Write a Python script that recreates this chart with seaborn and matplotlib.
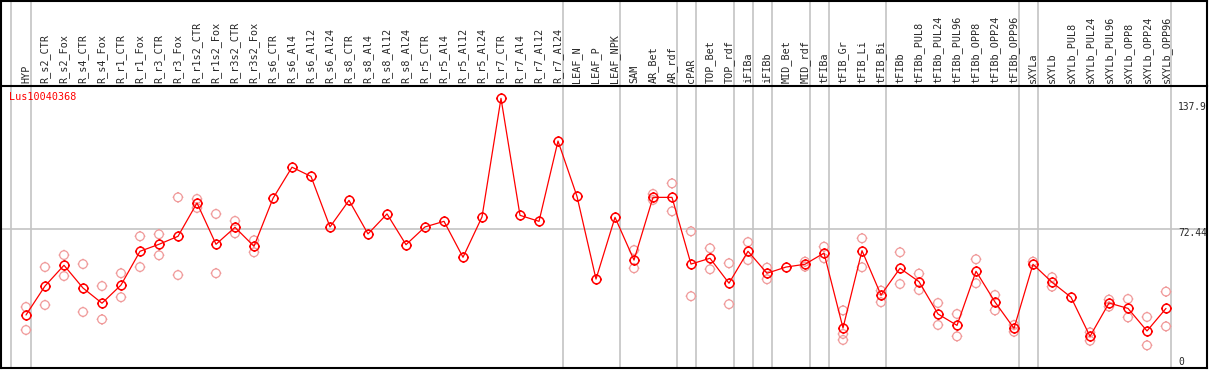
import numpy as np
import pandas as pd
import matplotlib
matplotlib.use("Agg")
import matplotlib.pyplot as plt
from matplotlib.path import Path
import seaborn as sns

# --------------------------------------------------------------------------- #
gene_id = "Lus10040368"

samples = [
    "HYP", "R_s2_CTR", "R_s2_Fox", "R_s4_CTR", "R_s4_Fox", "R_r1_CTR", "R_r1_Fox",
    "R_r3_CTR", "R_r3_Fox", "R_r1s2_CTR", "R_r1s2_Fox", "R_r3s2_CTR", "R_r3s2_Fox",
    "R_s6_CTR", "R_s6_Al4", "R_s6_Al12", "R_s6_Al24", "R_s8_CTR", "R_s8_Al4",
    "R_s8_Al12", "R_s8_Al24", "R_r5_CTR", "R_r5_Al4", "R_r5_Al12", "R_r5_Al24",
    "R_r7_CTR", "R_r7_Al4", "R_r7_Al12", "R_r7_Al24", "LEAF_N", "LEAF_P", "LEAF_NPK",
    "SAM", "AR_Bet", "AR_rdf", "cPAR", "TOP_Bet", "TOP_rdf", "iFIBa", "iFIBb",
    "MID_Bet", "MID_rdf", "tFIBa", "tFIB_Gr", "tFIB_Li", "tFIB_Bi", "tFIBb",
    "tFIBb_PUL8", "tFIBb_PUL24", "tFIBb_PUL96", "tFIBb_OPP8", "tFIBb_OPP24",
    "tFIBb_OPP96", "sXYLa", "sXYLb", "sXYLb_PUL8", "sXYLb_PUL24", "sXYLb_PUL96",
    "sXYLb_OPP8", "sXYLb_OPP24", "sXYLb_OPP96",
]

# mean expression per sample
means = [
    29.4, 43.9, 54.3, 42.9, 35.3, 44.4, 61.3, 64.8, 68.8, 85.5, 64.8, 73.3, 63.8,
    87.8, 103.4, 98.8, 73.5, 86.8, 70.0, 80.0, 64.6, 73.5, 76.3, 58.3, 78.5,
    137.9, 79.3, 76.3, 116.5, 88.8, 47.4, 78.3,
    56.9, 88.3, 88.3, 54.9, 57.8, 45.3, 61.3, 50.3, 53.4, 54.8, 60.4, 22.9, 61.6,
    39.4, 52.8, 46.1, 29.9, 24.2, 51.3, 35.9, 22.7, 54.8, 45.8, 38.3, 18.7, 35.4,
    32.7, 21.4, 32.7,
]

# individual replicates (nan = hidden behind the mean marker)
nan = np.nan
rep_hi = [
    33.4, 53.4, 59.4, 54.9, 43.9, 50.3, 68.8, 69.8, 88.3, 87.5, 80.0, 76.5, 66.8,
    nan, nan, nan, nan, nan, nan, nan, nan, nan, nan, nan, nan,
    nan, nan, nan, nan, nan, nan, nan,
    61.9, 90.0, 95.3, 71.3, 62.8, 55.3, 65.9, 53.1, nan, 56.1, 63.6, 31.7, 67.8,
    41.6, 60.8, 50.1, 35.4, 29.9, 57.3, 39.4, 24.4, 56.1, 48.3, nan, 20.7, 37.1,
    37.4, 28.4, 41.1,
]
rep_lo = [
    21.9, 34.4, 48.9, 30.9, 27.2, 38.3, 53.4, 59.3, 49.4, 83.0, 50.3, 70.3, 60.8,
    nan, nan, nan, nan, nan, nan, nan, nan, nan, nan, nan, nan,
    nan, nan, nan, nan, nan, nan, nan,
    52.8, 87.0, 81.3, 38.8, 52.3, 34.8, 56.9, 47.3, nan, 53.6, 57.8, 19.9, 53.3,
    35.8, 44.9, 41.9, 24.4, 18.7, 45.3, 31.7, 21.0, nan, 43.6, nan, 16.5, 33.6,
    28.2, 14.2, 23.7,
]
extra_rep_sample = ["tFIB_Gr"]
extra_rep_value = [16.9]

# group separators sit just right of these samples
group_ends = [0, 28, 31, 34, 35, 37, 38, 39, 41, 42, 45, 52, 53, 60]
ytick_vals = [137.9, 72.44, 0]
# --------------------------------------------------------------------------- #

sns.set_style("white")
plt.rcParams["font.family"] = ["DejaVu Sans Mono", "DejaVu Sans"]

RED = "#FF0000"
PINK = "#F09A9A"
GRID = "#C4C4C4"
W, H = 1209, 370


def ring_marker():
    # circle drawn as a polygon plus four short ticks outside it
    t = np.linspace(0, 2 * np.pi, 33)
    ring = np.column_stack([np.cos(t), np.sin(t)])
    verts = list(map(tuple, ring))
    codes = [Path.MOVETO] + [Path.LINETO] * (len(ring) - 1)
    for c, s in [(1, 0), (0, 1), (-1, 0), (0, -1)]:
        verts += [(c, s), (1.25 * c, 1.25 * s)]
        codes += [Path.MOVETO, Path.LINETO]
    return Path(verts, codes)


pos = np.arange(len(samples))
mean_df = pd.DataFrame({"pos": pos, "value": means})
rep_df = pd.concat([
    pd.DataFrame({"pos": pos, "value": rep_hi}),
    pd.DataFrame({"pos": pos, "value": rep_lo}),
    pd.DataFrame({"pos": [samples.index(s) for s in extra_rep_sample],
                  "value": extra_rep_value}),
]).dropna()

fig = plt.figure(figsize=(W / 100, H / 100), dpi=100)
head_px, bot_px, left_px, right_px = 86, 368, 1, 1207
xlim = ((left_px - 26) / 19, (right_px - 26) / 19)
to_v = lambda y: (373.7 - y) / 1.997

ax = fig.add_axes([left_px / W, (H - bot_px) / H,
                   (right_px - left_px) / W, (bot_px - head_px) / H])
axh = fig.add_axes([left_px / W, (H - head_px) / H,
                    (right_px - left_px) / W, (head_px - 1) / H])

for a in (ax, axh):
    a.set_xlim(*xlim)
    a.set_xticks([])
    a.set_yticks([])
    for sp in a.spines.values():
        sp.set_color("black")
        sp.set_linewidth(1.5)
    a.axvline(-0.8, color=GRID, lw=1.2, zorder=0)
    for g in group_ends:
        a.axvline(g + 0.25, color=GRID, lw=1.2, zorder=0)
ax.spines["top"].set_visible(False)
axh.set_ylim(0, 1)
ax.set_ylim(to_v(bot_px), to_v(head_px))
ax.axhline(ytick_vals[1], color=GRID, lw=1.2, zorder=0)

mk = ring_marker()
sns.scatterplot(data=rep_df, x="pos", y="value", ax=ax, marker=mk, s=60,
                facecolor="none", edgecolor=PINK, linewidth=0.9, zorder=2,
                legend=False)
sns.lineplot(data=mean_df, x="pos", y="value", ax=ax, color=RED, lw=0.9,
             marker=mk, markersize=7.8, markerfacecolor="none",
             markeredgecolor=RED, markeredgewidth=1.1, zorder=3)
ax.set_xlabel("")
ax.set_ylabel("")

for i, s in enumerate(samples):
    axh.text(i, 3 / 85, s, rotation=90, ha="center", va="bottom", fontsize=7.3)

fig.text(9 / W, 1 - 97 / H, gene_id, color=RED, fontsize=7.3, va="center")
for v, ypx in zip(ytick_vals, [107, 232.5, 362]):
    fig.text(1178 / W, 1 - ypx / H, f"{v:g}", ha="left", va="center", fontsize=6.9)

fig.savefig("out.png", dpi=100)
